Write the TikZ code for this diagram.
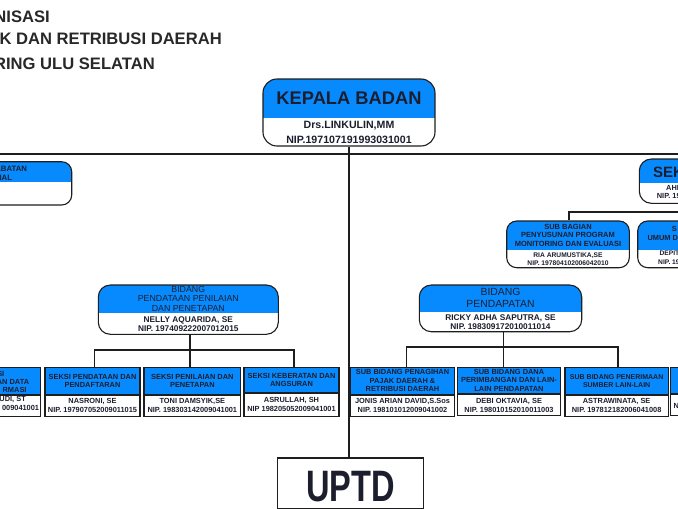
\documentclass[tikz,border=0pt]{standalone}
\usepackage{fontspec}
\setmainfont{Liberation Sans}
\usetikzlibrary{positioning}
\definecolor{hdrblue}{RGB}{8,138,255}
\definecolor{boxcol}{RGB}{30,30,30}
\definecolor{txtdark}{RGB}{28,30,45}
\definecolor{titlecol}{RGB}{40,40,40}
\begin{document}
\begin{tikzpicture}[x=1pt, y=-1pt,
    line/.style={draw=boxcol, line width=1.8pt},
    rbox/.style={draw=boxcol, line width=1.1pt, fill=white, inner sep=0pt, rounded corners=#1},
    hdrfill/.style={path picture={\fill[hdrblue, sharp corners] (path picture bounding box.north west) rectangle ([yshift=-#1]path picture bounding box.north east);}},
    sbox/.style={draw=boxcol, line width=1.1pt, inner sep=0pt, align=center, text=txtdark},
    shdr/.style={sbox, fill=hdrblue, minimum height=26.5, anchor=north, font=\bfseries\fontsize{7.4}{8.4}\selectfont},
    snip/.style={sbox, fill=white, minimum height=21, anchor=north, font=\bfseries\fontsize{7.4}{9.2}\selectfont},
    teks/.style={inner sep=0pt, align=center, text=txtdark},
    potong/.style={inner sep=0pt, text=txtdark, font=\bfseries\fontsize{7.4}{8.4}\selectfont},
    judul/.style={inner sep=0pt, anchor=base east, text=titlecol, font=\bfseries\fontsize{16.6}{18}\selectfont}
]
    \useasboundingbox (0,0) rectangle (678,509);
    \clip (0,0) rectangle (678,509);
    \fill[white] (0,0) rectangle (678,509);

    \node[judul, name=judul1] at (50,22.5) {NISASI};
    \node[judul, name=judul2] at (222,44.3) {K DAN RETRIBUSI DAERAH};
    \node[judul, name=judul3] at (155,69.3) {RING ULU SELATAN};

    \coordinate (busL) at (-5,154);
    \coordinate (busR) at (690,154);
    \draw[line] (busL) -- (busR);

    \node[
        rbox=14,
        hdrfill=39,
        minimum width=172,
        minimum height=67,
        name=kepala
    ] at (349,112.5) {};
    \node[teks, minimum height=39, anchor=north, font=\bfseries\fontsize{18.3}{22}\selectfont, name=kepalajudul] at (kepala.north) {KEPALA BADAN};
    \node[teks, minimum height=28, anchor=south, font=\bfseries\fontsize{10.6}{14.4}\selectfont, name=kepalanama] at (kepala.south) {Drs.LINKULIN,MM\\NIP.197107191993031001};

    \node[
        sbox,
        fill=white,
        line width=1.3pt,
        minimum width=145.6,
        minimum height=50.3,
        text height=37.5,
        font=\bfseries\fontsize{44}{48}\selectfont,
        name=uptd
    ] at (350.5,483.2) {\scalebox{0.74}[1]{UPTD}};
    \draw[line] (kepala.south) -- (kepala.south |- uptd.north);

    \node[
        rbox=10,
        hdrfill=20.3,
        minimum width=171.7,
        minimum height=43.3,
        name=jabatan
    ] at (-14.15,183.35) {};
    \node[potong, anchor=base east, font=\bfseries\fontsize{7.8}{8.5}\selectfont, name=jabatan1] at (27.3,171.5) {ABATAN};
    \node[potong, anchor=base east, font=\bfseries\fontsize{7.8}{8.5}\selectfont, name=jabatan2] at (12.3,180) {NAL};

    \node[
        rbox=12,
        hdrfill=24.3,
        minimum width=160,
        minimum height=44.3,
        name=sekretaris
    ] at (719.3,181.15) {};
    \node[potong, anchor=base west, font=\bfseries\fontsize{15}{18}\selectfont, name=sekjudul] at (653,177.3) {SEK};
    \node[potong, anchor=base west, name=seknama] at (666,190) {AHM};
    \node[potong, anchor=base west, name=seknip] at (656.7,198.3) {NIP. 19};

    \coordinate (sekbus) at (700,211.7);

    \node[
        rbox=10,
        hdrfill=29,
        minimum width=122.6,
        minimum height=46.7,
        name=subprog
    ] at (568,244.35) {};
    \node[teks, minimum height=29, anchor=north, font=\bfseries\fontsize{7.5}{8.5}\selectfont, name=subprogjudul] at (subprog.north) {SUB BAGIAN\\PENYUSUNAN PROGRAM\\MONITORING DAN EVALUASI};
    \node[teks, minimum height=17.7, anchor=south, font=\bfseries\fontsize{6.7}{8.3}\selectfont, name=subprognama] at (subprog.south) {RIA ARUMUSTIKA,SE\\NIP. 197804102006042010};

    \node[
        rbox=10,
        hdrfill=29,
        minimum width=160,
        minimum height=46.7,
        name=umum
    ] at (717.7,244.35) {};
    \node[potong, anchor=base west, name=umum1] at (671.7,231.5) {S};
    \node[potong, anchor=base west, name=umum2] at (647.3,240.5) {UMUM DA};
    \node[potong, anchor=base west, font=\bfseries\fontsize{6.7}{8.3}\selectfont, name=umumnama] at (659.3,255.7) {DEPIT};
    \node[potong, anchor=base west, font=\bfseries\fontsize{6.7}{8.3}\selectfont, name=umumnip] at (658,264.5) {NIP. 19};

    \draw[line] ([xshift=1]subprog.north) |- (sekbus);

    \node[
        rbox=12,
        hdrfill=28.3,
        minimum width=180,
        minimum height=49.3,
        name=bpend
    ] at (188.3,309.65) {};
    \node[teks, minimum height=28.3, anchor=north, font=\fontsize{8.8}{9.6}\selectfont, name=bpendjudul] at (bpend.north) {BIDANG\\PENDATAAN PENILAIAN\\DAN PENETAPAN};
    \node[teks, minimum height=21, anchor=south, font=\bfseries\fontsize{8.3}{9.2}\selectfont, name=bpendnama] at (bpend.south) {NELLY AQUARIDA, SE\\NIP. 197409222007012015};

    \node[
        rbox=12,
        hdrfill=26.7,
        minimum width=162.4,
        minimum height=46.7,
        name=bpdpt
    ] at (500.5,308.35) {};
    \node[teks, minimum height=26.7, anchor=north, font=\fontsize{10.4}{11.6}\selectfont, name=bpdptjudul] at (bpdpt.north) {BIDANG\\PENDAPATAN};
    \node[teks, minimum height=20, anchor=south, font=\bfseries\fontsize{8.3}{9.2}\selectfont, name=bpdptnama] at (bpdpt.south) {RICKY ADHA SAPUTRA, SE\\NIP. 198309172010011014};

    \node[shdr, minimum width=100.7, name=olah] at (-9.65,367) {};
    \node[snip, minimum width=100.7, name=olahnip] at (olah.south) {};
    \node[potong, anchor=base east, name=olah1] at (4.5,376) {SI};
    \node[potong, anchor=base east, name=olah2] at (29.3,384) {AN DATA};
    \node[potong, anchor=base east, name=olah3] at (26.7,392.3) {RMASI};
    \node[potong, anchor=base east, name=olahnama] at (26,401) {UDI, ST};
    \node[potong, anchor=base east, name=olahnomor] at (39.3,410) {009041001};

    \node[shdr, minimum width=95, name=daftar] at (92.5,367) {SEKSI PENDATAAN DAN\\PENDAFTARAN};
    \node[snip, minimum width=95, name=daftarnip] at (daftar.south) {NASRONI, SE\\NIP. 197907052009011015};

    \node[shdr, minimum width=96.7, name=nilai] at (192.35,367) {SEKSI PENILAIAN DAN\\PENETAPAN};
    \node[snip, minimum width=96.7, name=nilainip] at (nilai.south) {TONI DAMSYIK,SE\\NIP. 198303142009041001};

    \node[shdr, minimum width=95, minimum height=24.5, name=keberatan] at (291.5,367) {SEKSI KEBERATAN DAN\\ANGSURAN};
    \node[snip, minimum width=95, minimum height=23, name=keberatannip] at (keberatan.south) {ASRULLAH, SH\\NIP 198205052009041001};

    \draw[line] ([xshift=2]bpend.south) -- ++(0,33);
    \draw[line] ([xshift=2]daftar.north) -- ++(0,-17) -| ([xshift=2.5]keberatan.north);

    \node[shdr, minimum width=103.6, name=tagih] at (402.5,367) {SUB BIDANG PENAGIHAN\\PAJAK DAERAH \&\\RETRIBUSI DAERAH};
    \node[snip, minimum width=103.6, name=tagihnip] at (tagih.south) {JONIS ARIAN DAVID,S.Sos\\NIP. 198101012009041002};

    \node[shdr, minimum width=103.4, name=dana] at (509,366.5) {SUB BIDANG DANA\\PERIMBANGAN DAN LAIN-\\LAIN PENDAPATAN};
    \node[snip, minimum width=103.4, name=dananip] at (dana.south) {DEBI OKTAVIA, SE\\NIP. 198010152010011003};

    \node[shdr, minimum width=103.3, font=\bfseries\fontsize{7}{8.2}\selectfont, name=terima] at (616.65,367) {SUB BIDANG PENERIMAAN\\SUMBER LAIN-LAIN};
    \node[snip, minimum width=103.3, name=terimanip] at (terima.south) {ASTRAWINATA, SE\\NIP. 197812182006041008};

    \node[shdr, minimum width=109.3, name=lain] at (725.35,366.5) {};
    \node[snip, minimum width=109.3, name=lainnip] at (lain.south) {};
    \node[potong, anchor=base west, name=lainnomor] at (673.3,408.3) {N};

    \draw[line] ([xshift=3]bpdpt.south) -- ++(0,35);
    \draw[line] ([xshift=4]tagih.north) -- ++(0,-20) -| ([xshift=1]terima.north);
\end{tikzpicture}
\end{document}
